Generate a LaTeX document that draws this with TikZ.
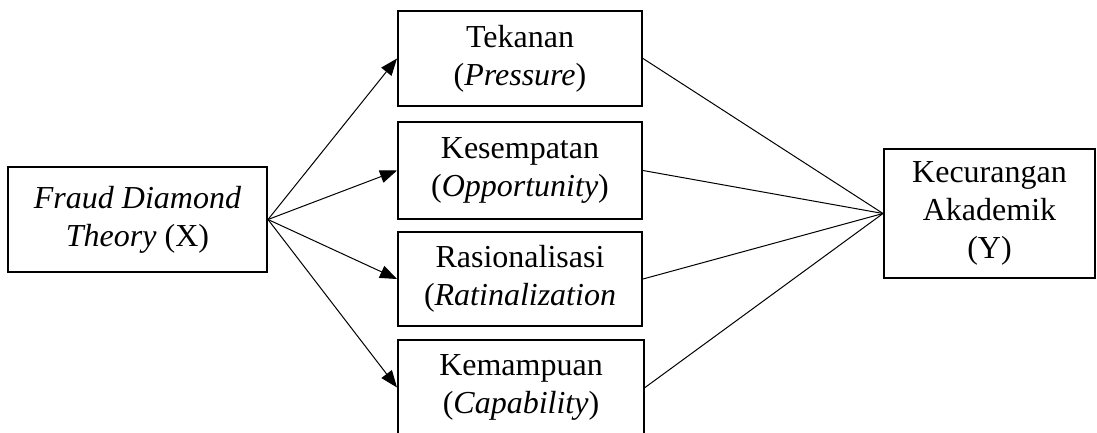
\documentclass[tikz,border=0pt]{standalone}
\usepackage{fontspec}
\setmainfont{Liberation Serif}
\usetikzlibrary{arrows.meta}

\tikzset{
    varbox/.style={draw, line width=1pt, inner sep=0pt, align=center,
        font=\fontsize{16}{19}\selectfont},
    link/.style={line width=0.5pt},
    linkarrow/.style={link, -{Triangle[length=8.5pt, width=6.5pt]}}
}

\begin{document}
\begin{tikzpicture}[x=0.5pt, y=-0.5pt]
    % Bingkai gambar
    \clip (0,0) rectangle (1097,433);

    % Variabel X
    \node[varbox, minimum width=129.5pt, minimum height=52.5pt] (fdt) at (137.5,219.5)
        {\textit{Fraud Diamond}\\\textit{Theory} (X)};

    % Empat dimensi
    \node[varbox, minimum width=122pt, minimum height=47.5pt] (tekanan) at (520,58.5)
        {Tekanan\\(\textit{Pressure})};
    \node[varbox, minimum width=122pt, minimum height=48.5pt] (kesempatan) at (520,170.5)
        {Kesempatan\\(\textit{Opportunity})};
    \node[varbox, minimum width=122pt, minimum height=47pt] (rasionalisasi) at (520,279)
        {Rasionalisasi\\(\textit{Ratinalization}};
    \node[varbox, minimum width=123pt, minimum height=47.5pt] (kemampuan) at (521,387.5)
        {Kemampuan\\(\textit{Capability})};

    % Variabel Y
    \node[varbox, minimum width=105.5pt, minimum height=64.5pt] (kecurangan) at (989.5,213.5)
        {Kecurangan\\Akademik\\(Y)};

    % Garis penghubung
    \foreach \d in {tekanan, kesempatan, rasionalisasi, kemampuan} {
        \draw[linkarrow] (fdt.east) -- (\d.west);
        \draw[link] (\d.east) -- (kecurangan.west);
    }
\end{tikzpicture}
\end{document}
